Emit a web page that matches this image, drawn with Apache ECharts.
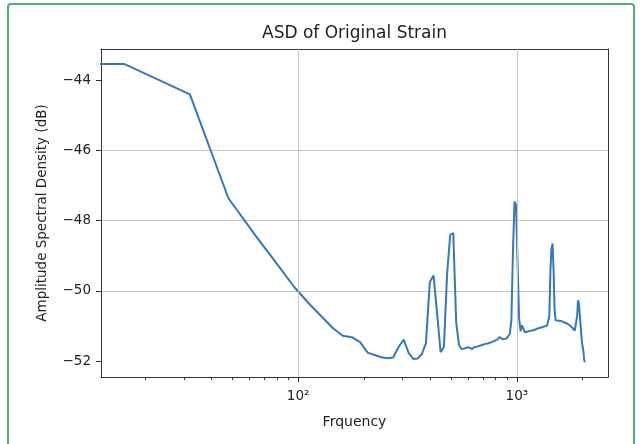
<!DOCTYPE html>
<html>
<head>
<meta charset="utf-8">
<script src="https://cdn.jsdelivr.net/npm/echarts@6/dist/echarts.min.js"></script>
<style>
  html, body { margin: 0; padding: 0; background: #fff; }
  #chart { width: 640px; height: 444px; }
</style>
</head>
<body>
<div id="chart"></div>
<script>
// Frequency bins (Hz) of the Welch ASD, DC bin first
const freqs = [
  0, 16, 32, 48, 64, 80, 96, 112, 128, 144, 160, 176, 192, 208, 224, 240,
  256, 272, 288, 304, 320, 336, 352, 368, 384, 400, 416, 432, 448, 464, 480, 496,
  512, 528, 544, 560, 576, 592, 608, 624, 640, 656, 672, 688, 704, 720, 736, 752,
  768, 784, 800, 816, 832, 848, 864, 880, 896, 912, 928, 944, 960, 976, 992, 1008,
  1024, 1040, 1056, 1072, 1088, 1104, 1120, 1136, 1152, 1168, 1184, 1200, 1216, 1232, 1248, 1264,
  1280, 1296, 1312, 1328, 1344, 1360, 1376, 1392, 1408, 1424, 1440, 1456, 1472, 1488, 1504, 1520,
  1536, 1552, 1568, 1584, 1600, 1616, 1632, 1648, 1664, 1680, 1696, 1712, 1728, 1744, 1760, 1776,
  1792, 1808, 1824, 1840, 1856, 1872, 1888, 1904, 1920, 1936, 1952, 1968, 1984, 2000, 2016, 2032,
  2048
];
// ASD values (dB)
const asdDb = [
  -43.53, -43.53, -44.40, -47.36, -48.43, -49.23, -49.89, -50.36, -50.73, -51.06, -51.28, -51.32, -51.46, -51.76, -51.83, -51.89,
  -51.92, -51.90, -51.60, -51.39, -51.77, -51.94, -51.93, -51.80, -51.49, -49.75, -49.56, -50.65, -51.75, -51.60, -49.50, -48.40,
  -48.35, -50.90, -51.55, -51.66, -51.64, -51.61, -51.62, -51.66, -51.60, -51.59, -51.57, -51.55, -51.53, -51.51, -51.50, -51.48,
  -51.45, -51.43, -51.40, -51.38, -51.32, -51.33, -51.38, -51.37, -51.36, -51.32, -51.23, -50.84, -48.85, -47.45, -47.57, -49.27,
  -50.78, -51.15, -50.98, -51.03, -51.18, -51.19, -51.16, -51.15, -51.14, -51.13, -51.12, -51.11, -51.10, -51.09, -51.07, -51.06,
  -51.05, -51.04, -51.03, -51.02, -51.01, -51.00, -50.99, -50.98, -50.70, -49.40, -48.80, -48.65, -49.40, -50.55, -50.84, -50.84,
  -50.85, -50.85, -50.85, -50.86, -50.86, -50.87, -50.88, -50.90, -50.91, -50.92, -50.93, -50.93, -50.94, -50.98, -51.00, -51.03,
  -51.05, -51.07, -51.10, -51.13, -51.15, -51.17, -50.70, -50.27, -50.35, -50.60, -50.90, -51.20, -51.46, -51.60, -51.74, -51.97,
  -52.03
];
// Tick values
const xMajorTicks = [100, 1000];
const xMinorTicks = [20, 30, 40, 50, 60, 70, 80, 90, 200, 300, 400, 500, 600, 700, 800, 900, 2000];
const yTicks = [-52, -50, -48, -46, -44];

const titleText = 'ASD of Original Strain';
const xName = 'Frquency';
const yName = 'Amplitude Spectral Density (dB)';

// matplotlib-like 5% margins (log space for x)
const posF = freqs.filter(f => f > 0);
const lx0 = Math.log10(Math.min(...posF)), lx1 = Math.log10(Math.max(...posF));
const xMin = Math.pow(10, lx0 - 0.05 * (lx1 - lx0));
const xMax = Math.pow(10, lx1 + 0.05 * (lx1 - lx0));
const yLo = Math.min(...asdDb), yHi = Math.max(...asdDb);
const yMin = yLo - 0.05 * (yHi - yLo);
const yMax = yHi + 0.05 * (yHi - yLo);

// nonpositive frequencies are clipped like matplotlib's log scale
const seriesData = freqs.map((f, i) => [f > 0 ? f : 1e-300, asdDb[i]]);

const sup = { '0': '\u2070', '1': '\u00b9', '2': '\u00b2', '3': '\u00b3', '4': '\u2074' };
const FONT = 'DejaVu Sans';
const TXT = '#222';
const GRID = '#c4c4c4';
const SPINE = '#333';

const chart = echarts.init(document.getElementById('chart'), null, { renderer: 'canvas' });
chart.setOption({
  animation: false,
  backgroundColor: '#fff',
  textStyle: { fontFamily: FONT },
  grid: { left: 101, right: 32, top: 49, bottom: 67, containLabel: false, outerBoundsMode: 'none' },
  graphic: [{
    type: 'rect', z: 100, silent: true,
    shape: { x: 8, y: 4, width: 626, height: 460, r: 3 },
    style: { fill: null, stroke: '#4fae74', lineWidth: 2 }
  }],
  xAxis: [{
    type: 'log', logBase: 10, min: xMin, max: xMax, position: 'bottom',
    name: xName, nameLocation: 'middle', nameGap: 38,
    nameTextStyle: { fontFamily: FONT, fontSize: 14, color: TXT },
    axisLine: { show: true, lineStyle: { color: SPINE, width: 1 } },
    axisTick: { show: true, customValues: xMajorTicks, length: 5, lineStyle: { color: SPINE, width: 1 } },
    axisLabel: {
      show: true, customValues: xMajorTicks, margin: 12,
      fontFamily: FONT, fontSize: 13.5, color: TXT,
      formatter: v => '10' + String(Math.round(Math.log10(v))).split('').map(c => sup[c]).join('')
    },
    splitLine: { show: false },
    minorTick: { show: false }
  }, {
    type: 'log', logBase: 10, min: xMin, max: xMax, position: 'bottom',
    axisLine: { show: false },
    axisTick: { show: true, customValues: xMinorTicks, length: 3, lineStyle: { color: SPINE, width: 1 } },
    axisLabel: { show: false },
    splitLine: { show: false }
  }, {
    type: 'value', min: 0, max: 1, position: 'top',
    name: titleText, nameLocation: 'middle', nameGap: 7,
    nameTextStyle: { fontFamily: FONT, fontSize: 17, color: TXT },
    axisLine: { show: true, lineStyle: { color: SPINE, width: 1 } },
    axisTick: { show: false }, axisLabel: { show: false }, splitLine: { show: false }
  }],
  yAxis: [{
    type: 'value', min: yMin, max: yMax, position: 'left',
    name: yName, nameLocation: 'middle', nameGap: 52, nameRotate: 90,
    nameTextStyle: { fontFamily: FONT, fontSize: 13.5, color: TXT },
    axisLine: { show: true, lineStyle: { color: SPINE, width: 1 } },
    axisTick: { show: true, customValues: yTicks, length: 5, lineStyle: { color: SPINE, width: 1 } },
    axisLabel: {
      show: true, customValues: yTicks, margin: 10,
      fontFamily: FONT, fontSize: 13.5, color: TXT,
      formatter: v => (v < 0 ? '\u2212' : '') + Math.abs(v)
    },
    splitLine: { show: true, showMinLine: false, showMaxLine: false, lineStyle: { color: GRID, width: 1 } }
  }, {
    type: 'value', min: 0, max: 1, position: 'right',
    axisLine: { show: true, lineStyle: { color: SPINE, width: 1 } },
    axisTick: { show: false }, axisLabel: { show: false }, splitLine: { show: false }
  }],
  series: [{
    type: 'line', xAxisIndex: 0, yAxisIndex: 0, z: 1,
    data: [], showSymbol: false, silent: true,
    markLine: {
      silent: true, symbol: ['none', 'none'], animation: false,
      label: { show: false },
      lineStyle: { color: GRID, width: 1, type: 'solid' },
      emphasis: { disabled: true },
      data: xMajorTicks.map(v => ({ xAxis: v }))
    }
  }, {
    type: 'line', xAxisIndex: 0, yAxisIndex: 0, z: 3,
    data: seriesData, showSymbol: false, symbol: 'none', clip: true,
    lineStyle: { color: '#3479ba', width: 2 }
  }]
});
</script>
</body>
</html>
